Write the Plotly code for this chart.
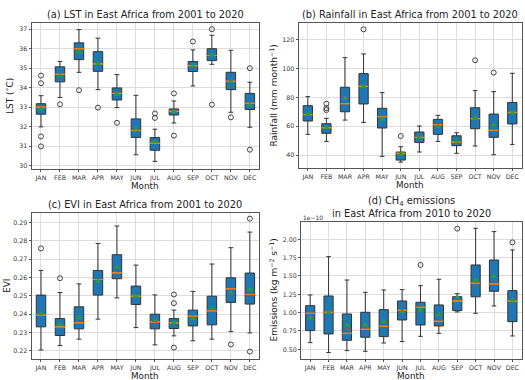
import plotly.graph_objects as go

months = ["JAN", "FEB", "MAR", "APR", "MAY", "JUN", "JUL", "AUG", "SEP", "OCT", "NOV", "DEC"]

# (a) LST (°C)
lst_q1 = [32.64, 34.30, 35.44, 34.84, 33.37, 31.45, 30.79, 32.60, 34.83, 35.39, 33.90, 32.88]
lst_med = [33.00, 34.69, 36.00, 35.22, 33.71, 31.80, 31.15, 32.79, 35.13, 35.65, 34.33, 33.20]
lst_q3 = [33.18, 35.07, 36.30, 35.85, 33.99, 32.40, 31.44, 32.91, 35.34, 36.00, 34.79, 33.71]
lst_lo = [31.99, 33.50, 34.79, 33.90, 32.98, 30.56, 30.22, 32.19, 34.09, 35.20, 32.74, 31.97]
lst_hi = [33.59, 35.34, 36.98, 36.54, 34.67, 33.61, 31.87, 33.32, 35.94, 36.69, 35.92, 34.28]
lst_mean = [32.90, 34.60, 35.84, 35.24, 33.65, 31.87, 31.22, 32.77, 35.13, 35.68, 34.33, 33.10]
lst_out = {"JAN": [34.62, 34.23, 31.50, 30.99], "FEB": [33.15], "MAR": [33.87], "APR": [32.98],
           "MAY": [32.20], "JUL": [32.68, 32.45], "AUG": [33.71, 31.54], "SEP": [36.37],
           "OCT": [37.00, 33.13], "NOV": [32.48], "DEC": [35.00, 30.82]}

# (b) Rainfall (mm month-1)
rain_q1 = [63.7, 55.1, 70.1, 75.5, 58.8, 36.5, 48.8, 54.4, 46.5, 58.3, 52.3, 61.6]
rain_med = [68.1, 59.0, 75.7, 87.8, 66.7, 41.2, 52.3, 61.1, 49.0, 65.3, 57.2, 69.7]
rain_q3 = [74.3, 61.8, 87.1, 96.6, 72.5, 42.1, 56.0, 64.8, 53.4, 72.9, 68.5, 76.6]
rain_lo = [54.4, 49.5, 64.3, 62.7, 39.1, 35.1, 42.1, 49.5, 41.2, 46.3, 40.2, 47.4]
rain_hi = [80.6, 65.5, 107.7, 110.3, 83.4, 45.8, 60.2, 67.6, 55.5, 84.8, 84.1, 96.8]
rain_mean = [68.5, 59.2, 79.4, 87.5, 64.8, 40.5, 52.1, 59.7, 49.7, 66.0, 60.9, 69.4]
rain_out = {"FEB": [75.7, 72.6, 71.3], "APR": [127.4], "JUN": [53.2], "OCT": [105.9], "NOV": [97.3]}

# (c) EVI
evi_q1 = [0.2331, 0.2284, 0.2320, 0.2504, 0.2593, 0.2453, 0.2320, 0.2322, 0.2336, 0.2342, 0.2464, 0.2455]
evi_med = [0.2396, 0.2331, 0.2353, 0.2589, 0.2625, 0.2498, 0.2358, 0.2353, 0.2389, 0.2418, 0.2538, 0.2507]
evi_q3 = [0.2504, 0.2376, 0.2440, 0.2638, 0.2724, 0.2553, 0.2400, 0.2376, 0.2422, 0.2498, 0.2598, 0.2624]
evi_lo = [0.2205, 0.2229, 0.2264, 0.2373, 0.2489, 0.2327, 0.2233, 0.2282, 0.2255, 0.2264, 0.2305, 0.2298]
evi_hi = [0.2638, 0.2518, 0.2565, 0.2785, 0.2880, 0.2667, 0.2505, 0.2422, 0.2524, 0.2673, 0.2762, 0.2847]
evi_mean = [0.2404, 0.2344, 0.2382, 0.2578, 0.2655, 0.2498, 0.2365, 0.2353, 0.2376, 0.2429, 0.2516, 0.2535]
evi_out = {"JAN": [0.2758], "FEB": [0.2596], "AUG": [0.2507, 0.2460, 0.2218],
           "NOV": [0.2235], "DEC": [0.2920, 0.2196]}

# (d) CH4 emissions (units of 1e-10 kg m-2 s-1)
ch4_q1 = [0.755, 0.709, 0.623, 0.664, 0.673, 0.900, 0.832, 0.818, 1.027, 1.216, 1.291, 0.877]
ch4_med = [0.991, 1.005, 0.718, 0.773, 0.814, 1.032, 1.073, 0.882, 1.159, 1.400, 1.391, 1.159]
ch4_q3 = [1.095, 1.227, 0.982, 1.005, 1.041, 1.159, 1.141, 1.105, 1.218, 1.650, 1.718, 1.300]
ch4_lo = [0.591, 0.455, 0.482, 0.473, 0.586, 0.605, 0.677, 0.718, 1.009, 0.991, 1.091, 0.682]
ch4_hi = [1.241, 1.764, 1.445, 1.277, 1.309, 1.314, 1.368, 1.455, 1.259, 2.150, 2.105, 1.855]
ch4_mean = [0.936, 1.005, 0.832, 0.832, 0.877, 1.014, 1.036, 0.973, 1.214, 1.445, 1.495, 1.173]
ch4_out = {"JUL": [1.650], "SEP": [2.145], "DEC": [1.959]}

BLUE = "#1f77b4"
EDGE = "#333333"
ORANGE = "#ff7f0e"
GREEN = "#2ca02c"
FONT = "DejaVu Sans"
W, H = 525, 380

panels = [
    dict(q1=lst_q1, med=lst_med, q3=lst_q3, lo=lst_lo, hi=lst_hi, mean=lst_mean, out=lst_out,
         dom_x=[0.060, 0.494], dom_y=[0.5553, 0.9395], yr=[29.83, 37.32], dtick=1, fmt="d",
         title="(a) LST in East Africa from 2001 to 2020", ylab="LST (<sup>∘</sup>C)", ylab_x=9),
    dict(q1=rain_q1, med=rain_med, q3=rain_q3, lo=rain_lo, hi=rain_hi, mean=rain_mean, out=rain_out,
         dom_x=[0.5686, 0.9935], dom_y=[0.5579, 0.9395], yr=[31.0, 131.8], dtick=20, fmt="d",
         title="(b) Rainfall in East Africa from 2001 to 2020", ylab="Rainfall (mm month<sup>−1</sup>)",
         ylab_x=274),
    dict(q1=evi_q1, med=evi_med, q3=evi_q3, lo=evi_lo, hi=evi_hi, mean=evi_mean, out=evi_out,
         dom_x=[0.060, 0.494], dom_y=[0.0553, 0.4395], yr=[0.2156, 0.2951], dtick=0.01, fmt=".2f",
         title="(c) EVI in East Africa from 2001 to 2020", ylab="EVI", ylab_x=7),
    dict(q1=ch4_q1, med=ch4_med, q3=ch4_q3, lo=ch4_lo, hi=ch4_hi, mean=ch4_mean, out=ch4_out,
         dom_x=[0.5733, 0.9935], dom_y=[0.0553, 0.4158], yr=[0.368, 2.236], dtick=0.25, fmt=".2f",
         title="(d) CH<sub>4</sub> emissions<br>in East Africa from 2010 to 2020",
         ylab="Emissions (kg m<sup>−2</sup> s<sup>−1</sup>)", ylab_x=274),
]

fig = go.Figure()
layout = dict(width=W, height=H, margin=dict(l=0, r=0, t=0, b=0, autoexpand=False),
              paper_bgcolor="white", plot_bgcolor="white", showlegend=False,
              font=dict(family=FONT, size=7, color="#333"), boxmode="overlay")
annotations = []

for i, p in enumerate(panels):
    n = i + 1
    xa = "x" if n == 1 else f"x{n}"
    ya = "y" if n == 1 else f"y{n}"
    fig.add_trace(go.Box(x=months, q1=p["q1"], median=p["med"], q3=p["q3"],
                         lowerfence=p["lo"], upperfence=p["hi"], fillcolor=BLUE,
                         line=dict(color=EDGE, width=1), width=0.5, whiskerwidth=0.5,
                         boxpoints=False, xaxis=xa, yaxis=ya, hoverinfo="skip"))
    fig.add_trace(go.Box(x=months, q1=p["med"], median=p["med"], q3=p["med"],
                         lowerfence=p["med"], upperfence=p["med"], fillcolor="rgba(0,0,0,0)",
                         line=dict(color=ORANGE, width=1), width=0.5, whiskerwidth=0,
                         boxpoints=False, xaxis=xa, yaxis=ya, hoverinfo="skip"))
    fig.add_trace(go.Scatter(x=months, y=p["mean"], mode="markers",
                             marker=dict(symbol="triangle-up", color=GREEN, size=5.5),
                             xaxis=xa, yaxis=ya, hoverinfo="skip"))
    ox, oy = [], []
    for m, vals in p["out"].items():
        for v in vals:
            ox.append(m)
            oy.append(v)
    fig.add_trace(go.Scatter(x=ox, y=oy, mode="markers",
                             marker=dict(symbol="circle-open", color="#444", size=5,
                                         line=dict(width=1)),
                             xaxis=xa, yaxis=ya, hoverinfo="skip"))
    axcommon = dict(showline=True, linecolor="#555", linewidth=1, mirror=True,
                    showgrid=True, gridcolor="#dcdcdc", gridwidth=1, automargin=False,
                    ticks="outside", ticklen=2, tickcolor="#555", zeroline=False,
                    tickfont=dict(size=6.3, color="#333"))
    layout["xaxis" if n == 1 else f"xaxis{n}"] = dict(
        domain=p["dom_x"], anchor=ya, type="category", categoryorder="array",
        categoryarray=months, range=[-0.5, 11.5], **axcommon)
    layout["yaxis" if n == 1 else f"yaxis{n}"] = dict(
        domain=p["dom_y"], anchor=xa, range=p["yr"], dtick=p["dtick"], tickformat=p["fmt"],
        **axcommon)
    cx = (p["dom_x"][0] + p["dom_x"][1]) / 2
    cy = (p["dom_y"][0] + p["dom_y"][1]) / 2
    annotations.append(dict(text=p["title"], x=cx, y=p["dom_y"][1], xref="paper", yref="paper",
                            xanchor="center", yanchor="bottom", yshift=1, showarrow=False,
                            font=dict(size=9.8, color="#222")))
    annotations.append(dict(text="Month", x=cx, y=p["dom_y"][0], xref="paper", yref="paper",
                            xanchor="center", yanchor="top", yshift=-11.5, borderpad=0,
                            showarrow=False, font=dict(size=8.8, color="#222")))
    annotations.append(dict(text=p["ylab"], x=p["ylab_x"] / W, y=cy, xref="paper", yref="paper",
                            xanchor="center", yanchor="middle", textangle=-90, showarrow=False,
                            borderpad=0, font=dict(size=9, color="#222")))

annotations.append(dict(text="1e−10", x=panels[3]["dom_x"][0], y=panels[3]["dom_y"][1],
                        xref="paper", yref="paper", xanchor="left", yanchor="bottom",
                        showarrow=False, font=dict(size=6, color="#333"), yshift=-1))
layout["annotations"] = annotations
fig.update_layout(**layout)
fig.write_html("out.html", config={"responsive": False, "displayModeBar": False},
               post_script="document.body.style.margin='0px';")
